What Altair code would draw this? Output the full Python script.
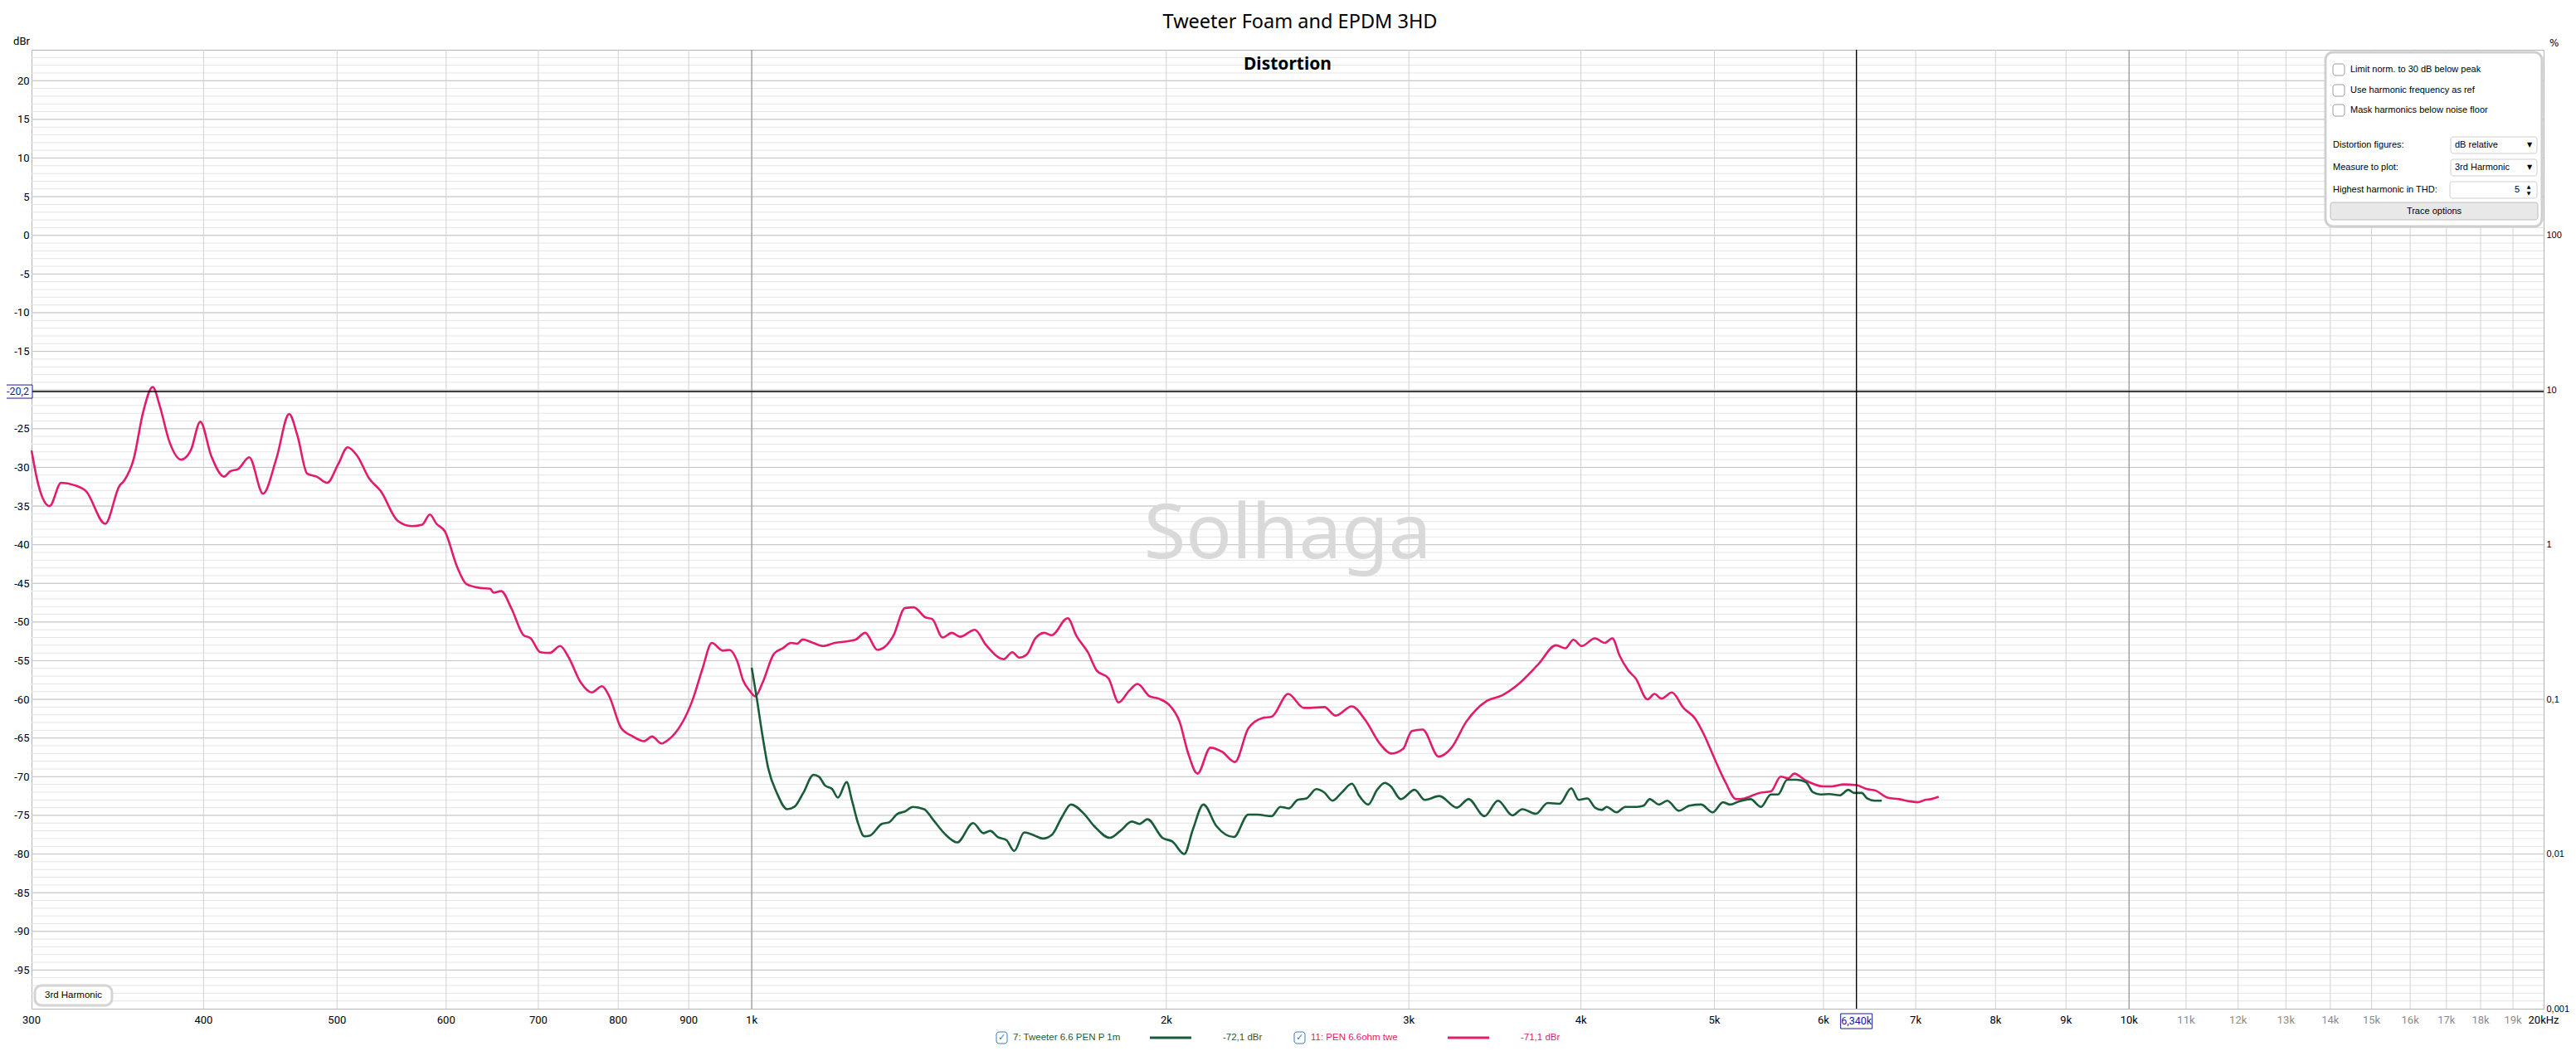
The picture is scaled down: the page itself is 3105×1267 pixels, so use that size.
import math
import altair as alt
import pandas as pd

# ---------------- data ----------------
pink_freq = [300, 303.6, 309.2, 315.2, 322.2, 328.7, 339.3, 347.5, 350.3, 355.9,
             361.6, 367.4, 371.8, 377.8, 385.3, 391.5, 397.8, 405.1, 413.9, 418.2,
             423.9, 431.7, 441.8, 451.7, 461.5, 468.1, 475.6, 483.3, 491.8, 500.9,
             508.9, 517.1, 527.4, 538.0, 553.2, 566.5, 576.5, 583.9, 590.4, 598.9,
             610.9, 620.7, 635.7, 645.8, 649.5, 657.8, 669.4, 682.9, 691.1, 702.2,
             713.4, 726.0, 736.5, 751.3, 765.2, 778.7, 788.1, 803.9, 820.0, 835.2,
             846.6, 860.1, 870.4, 906.2, 920.8, 935.5, 952.8, 963.4, 975.8, 986,
             996, 1006, 1018, 1038, 1053, 1068, 1079, 1089, 1108, 1127,
             1149, 1172, 1189, 1209, 1234, 1267, 1292, 1311, 1337, 1352,
             1376, 1397, 1417, 1452, 1480, 1524, 1546, 1564, 1584, 1607,
             1631, 1651, 1696, 1721, 1754, 1780, 1816, 1847, 1879, 1906,
             1945, 1974, 2014, 2045, 2073, 2107, 2153, 2196, 2243, 2294,
             2350, 2385, 2452, 2517, 2543, 2605, 2655, 2727, 2790, 2857,
             2914, 2971, 3015, 3070, 3153, 3222, 3302, 3418, 3505, 3594,
             3723, 3837, 3896, 3950, 4005, 4095, 4163, 4216, 4266, 4329,
             4384, 4471, 4523, 4577, 4657, 4748, 4842, 4915, 4985, 5093,
             5184, 5259, 5389, 5495, 5586, 5658, 5714, 5826, 5998, 6087,
             6206, 6340, 6453, 6548, 6677, 6808, 6942, 7024, 7113, 7182, 7274]
pink_db = [-27.8, -32.4, -35.0, -32.0, -32.3, -33.1, -37.3, -32.4, -31.7, -28.9,
           -22.8, -19.6, -22.1, -26.7, -29.0, -27.8, -24.1, -28.5, -31.2, -30.5,
           -30.2, -28.7, -33.4, -28.9, -23.1, -26.0, -30.8, -31.2, -32.0, -29.6,
           -27.4, -28.5, -31.4, -33.1, -36.9, -37.6, -37.4, -36.1, -37.3, -38.3,
           -42.8, -45.1, -45.6, -45.7, -46.2, -46.0, -48.3, -51.7, -52.1, -53.9,
           -54.0, -53.1, -54.6, -57.8, -59.1, -58.3, -59.6, -63.7, -64.8, -65.4,
           -64.8, -65.7, -65.2, -60.0, -56.1, -52.7, -53.7, -53.6, -55.0, -57.6,
           -58.8, -59.6, -57.9, -54.1, -53.4, -52.7, -52.8, -52.25, -52.7, -53.1,
           -52.7, -52.5, -52.3, -51.4, -53.6, -51.8, -48.2, -48.1, -49.4, -49.6,
           -52.0, -51.4, -51.9, -51.0, -53.0, -54.8, -53.9, -54.6, -54.2, -52.1,
           -51.4, -51.7, -49.5, -51.8, -53.9, -56.25, -57.3, -60.4, -58.9, -58.0,
           -59.6, -59.9, -60.9, -62.9, -66.8, -69.6, -66.25, -66.8, -68.1, -63.75,
           -62.4, -62.25, -59.3, -61.1, -61.1, -61.0, -62.1, -60.9, -62.7, -65.7,
           -67.0, -66.4, -64.1, -63.9, -67.4, -66.25, -62.9, -60.2, -59.5, -58.2,
           -55.5, -53.0, -53.4, -52.3, -53.1, -52.1, -52.7, -52.1, -54.3, -56.25,
           -57.3, -60.0, -59.3, -59.9, -59.1, -61.1, -62.5, -64.6, -67.1, -70.7,
           -72.9, -72.8, -72.1, -71.9, -70.0, -70.2, -69.6, -70.5, -71.25, -71.25,
           -71.0, -71.1, -71.6, -71.8, -72.7, -72.9, -73.2, -73.3, -73.0, -72.9, -72.6]

green_freq = [1000, 1008, 1018, 1028, 1043, 1061, 1074, 1090, 1109, 1119,
              1130, 1144, 1155, 1172, 1183, 1195, 1207, 1219, 1243, 1258,
              1276, 1292, 1309, 1334, 1356, 1383, 1410, 1448, 1473, 1490,
              1509, 1531, 1551, 1577, 1604, 1627, 1652, 1680, 1705, 1743,
              1773, 1820, 1852, 1888, 1912, 1938, 1987, 2021, 2061, 2091,
              2128, 2175, 2239, 2294, 2328, 2385, 2420, 2455, 2491, 2528,
              2570, 2603, 2641, 2680, 2727, 2762, 2803, 2845, 2882, 2911,
              2960, 3029, 3081, 3157, 3251, 3315, 3404, 3482, 3567, 3627,
              3710, 3784, 3859, 3936, 3985, 4044, 4095, 4143, 4176, 4245,
              4308, 4393, 4442, 4487, 4558, 4621, 4711, 4795, 4890, 4985,
              5073, 5133, 5208, 5311, 5405, 5495, 5560, 5647, 5738, 5826,
              5894, 5970, 6058, 6165, 6255, 6315, 6397, 6453, 6536, 6614]
green_db = [-55.9, -59.6, -64.6, -68.9, -72.1, -74.2, -73.9, -72.1, -69.75, -70.0,
            -71.1, -71.6, -72.7, -70.7, -73.2, -76.1, -77.7, -77.6, -76.1, -75.9,
            -74.8, -74.5, -73.9, -74.2, -75.7, -77.5, -78.5, -76.0, -77.3, -77.0,
            -77.8, -78.2, -79.6, -77.2, -77.6, -78.0, -77.5, -75.2, -73.6, -74.8,
            -76.4, -77.9, -77.0, -75.8, -76.1, -75.5, -77.9, -78.4, -80.0, -76.8,
            -73.6, -76.4, -77.8, -74.9, -74.9, -75.1, -73.9, -74.1, -73.0, -72.8,
            -71.6, -72.0, -73.1, -72.1, -70.9, -72.5, -73.6, -71.7, -70.8, -71.25,
            -72.9, -71.7, -73.0, -72.5, -74.0, -72.9, -75.1, -73.1, -75.0, -74.2,
            -74.8, -73.4, -73.5, -71.5, -73.0, -72.8, -74.0, -74.3, -73.9, -74.6,
            -73.9, -73.9, -73.75, -72.9, -73.6, -73.1, -74.4, -73.75, -73.6, -74.6,
            -73.3, -73.6, -73.2, -72.9, -73.9, -72.3, -72.3, -70.4, -70.4, -70.7,
            -72.0, -72.3, -72.25, -72.4, -71.7, -72.1, -72.1, -72.8, -73.1, -73.1]

x_ticks = [300, 400, 500, 600, 700, 800, 900, 1000, 2000, 3000, 4000, 5000,
           6000, 7000, 8000, 9000, 10000, 20000]
x_tick_labels = ["300", "400", "500", "600", "700", "800", "900", "1k", "2k", "3k",
                 "4k", "5k", "6k", "7k", "8k", "9k", "10k", "20kHz"]
x_minor_ticks = [11000, 12000, 13000, 14000, 15000, 16000, 17000, 18000, 19000]
x_minor_labels = ["11k", "12k", "13k", "14k", "15k", "16k", "17k", "18k", "19k"]
y_ticks = [-95, -90, -85, -80, -75, -70, -65, -60, -55, -50, -45, -40, -35,
           -30, -25, -15, -10, -5, 0, 5, 10, 15, 20]
pct_ticks = [0.001, 0.01, 0.1, 1, 10, 100]
decade_lines = [1000, 10000]
cursor_freq = 6340
cursor_db = -20.2

series_names = ["7: Tweeter 6.6 PEN P 1m", "11: PEN 6.6ohm twe"]
cursor_values = ["-72,1 dBr", "-71,1 dBr"]

# ---------------- layout constants ----------------
W, H = 3028, 1156
X_MIN, X_MAX = 300, 20000
Y_MIN, Y_MAX = -100, 24
PINK = "#e31b6c"
GREEN = "#185c38"
UI = "Liberation Sans"
NARROW = "Liberation Sans Narrow, Roboto, Liberation Sans"
XLAB_PAD = 8
XLAB_SIZE = 13


def xpx(f):
    return W * math.log(f / X_MIN) / math.log(X_MAX / X_MIN)


def ypx(v):
    return H * (Y_MAX - v) / (Y_MAX - Y_MIN)


xs = alt.Scale(type="log", domain=[X_MIN, X_MAX], nice=False)
ys = alt.Scale(domain=[Y_MIN, Y_MAX], nice=False, zero=False)

one = pd.DataFrame({"a": [0]})


def txt(s, x, y, size=11, color="#000000", align="left", weight="normal",
        font=UI, baseline="middle"):
    return alt.Chart(pd.DataFrame({"t": [s]})).mark_text(
        align=align, baseline=baseline, fontSize=size, color=color,
        fontWeight=weight, font=font
    ).encode(x=alt.value(x), y=alt.value(y), text="t:N")


def box(x1, y1, x2, y2, fill="white", stroke="#cccccc", sw=1, r=0):
    return alt.Chart(one).mark_rect(
        fill=fill, stroke=stroke, strokeWidth=sw, cornerRadius=r
    ).encode(x=alt.value(x1), x2=alt.value(x2), y=alt.value(y1), y2=alt.value(y2))


# ---------------- grid ----------------
hminor = alt.Chart(pd.DataFrame({"v": list(range(-99, 24))})).mark_rule(
    color="#e4e4e4", strokeWidth=1).encode(y=alt.Y("v:Q", scale=ys, axis=None))
hmajor = alt.Chart(pd.DataFrame({"v": list(range(-95, 24, 5))})).mark_rule(
    color="#c4c4c4", strokeWidth=1).encode(y=alt.Y("v:Q", scale=ys, axis=None))
vgrid = alt.Chart(pd.DataFrame({"f": x_ticks[1:-1] + x_minor_ticks})).mark_rule(
    color="#d2d2d2", strokeWidth=1).encode(x=alt.X("f:Q", scale=xs, axis=None))
vdec = alt.Chart(pd.DataFrame({"f": decade_lines})).mark_rule(
    color="#8a8a8a", strokeWidth=1).encode(x=alt.X("f:Q", scale=xs, axis=None))

watermark = txt("Solhaga", W / 2, 585, size=92, color="#d9d9d9",
                align="center", font="Noto Sans")

# ---------------- curves ----------------
pink_df = pd.DataFrame({"f": pink_freq, "db": pink_db})
green_df = pd.DataFrame({"f": green_freq, "db": green_db})

yaxis = alt.Axis(
    values=y_ticks, ticks=False, domain=False, grid=False, title=None,
    labelFont=NARROW, labelFontSize=13, labelPadding=3,
    labelExpr="'' + datum.value", labelColor="#000000", orient="left",
)

pink_line = alt.Chart(pink_df).mark_line(
    color=PINK, strokeWidth=2.6, interpolate="monotone").encode(
    x=alt.X("f:Q", scale=xs, axis=None),
    y=alt.Y("db:Q", scale=ys, axis=yaxis),
    order="f:Q")
green_line = alt.Chart(green_df).mark_line(
    color=GREEN, strokeWidth=2.6, interpolate="monotone").encode(
    x=alt.X("f:Q", scale=xs, axis=None),
    y=alt.Y("db:Q", scale=ys, axis=None),
    order="f:Q")

# frequency labels, placed by the x scale
major_lab = alt.Chart(pd.DataFrame({"f": x_ticks, "l": x_tick_labels})).mark_text(
    baseline="top", align="center", font=NARROW, fontSize=XLAB_SIZE, color="#000000"
).encode(x=alt.X("f:Q", scale=xs, axis=None), y=alt.value(H + XLAB_PAD), text="l:N")
minor_lab = alt.Chart(pd.DataFrame({"f": x_minor_ticks, "l": x_minor_labels})).mark_text(
    baseline="top", align="center", font=NARROW, fontSize=XLAB_SIZE, color="#8c8c8c"
).encode(x=alt.X("f:Q", scale=xs, axis=None), y=alt.value(H + XLAB_PAD), text="l:N")

# ---------------- cursor ----------------
cur_h = alt.Chart(pd.DataFrame({"v": [cursor_db]})).mark_rule(
    color="#000000", strokeWidth=1.4).encode(y=alt.Y("v:Q", scale=ys, axis=None))
cur_v = alt.Chart(pd.DataFrame({"f": [cursor_freq]})).mark_rule(
    color="#000000", strokeWidth=1.4).encode(x=alt.X("f:Q", scale=xs, axis=None))

cy = ypx(cursor_db)
cx = xpx(cursor_freq)
NAVY = "#1a1a9c"
cur_box_y = box(-34, cy - 8, 1, cy + 8, stroke=NAVY, sw=1)
cur_txt_y = txt("-20,2", -16.5, cy, size=12.5, color=NAVY, align="center", font=NARROW)
cur_box_x = box(cx - 19, H + 6, cx + 19, H + 24, stroke=NAVY, sw=1)
cur_txt_x = txt("6,340k", cx, H + 15, size=12.5, color=NAVY, align="center", font=NARROW)

# ---------------- titles ----------------
title = txt("Tweeter Foam and EPDM 3HD", 1529, -33, size=23.5, font="Noto Sans", align="center")
subtitle = txt("Distortion", W / 2, 18, size=21, weight="bold", font="Noto Sans", align="center")
dbr = txt("dBr", -12, -10, size=13, font=NARROW, align="center")
pct_title = txt("%", 3035, -8, size=12, font="DejaVu Sans", align="left")

# ---------------- control panel ----------------
panel = [box(2765, 3, 3026, 213, stroke="#cfcfcf", sw=3, r=9)]
for lbl, yy in [("Limit norm. to 30 dB below peak", 24),
                ("Use harmonic frequency as ref", 49),
                ("Mask harmonics below noise floor", 73)]:
    panel.append(box(2774, yy - 7, 2788, yy + 7, stroke="#9a9a9a", sw=1, r=3))
    panel.append(txt(lbl, 2795, yy, size=11))
for lbl, val, yy in [("Distortion figures:", "dB relative", 115),
                     ("Measure to plot:", "3rd Harmonic", 142)]:
    panel.append(txt(lbl, 2774, yy, size=11))
    panel.append(box(2916, yy - 10, 3020, yy + 10, stroke="#cfcfcf", sw=1, r=3))
    panel.append(txt(val, 2921, yy, size=11))
    panel.append(txt("▼", 3011, yy, size=8, align="center", font="DejaVu Sans"))
panel.append(txt("Highest harmonic in THD:", 2774, 169, size=11))
panel.append(box(2915, 159, 3020, 179, stroke="#cfcfcf", sw=1, r=3))
panel.append(txt("5", 2999, 169, size=11, align="right"))
panel.append(txt("▲", 3010, 165, size=6, align="center", font="DejaVu Sans"))
panel.append(txt("▼", 3010, 173, size=6, align="center", font="DejaVu Sans"))
panel.append(box(2771, 184, 3021, 205, fill="#e8e8e8", stroke="#bdbdbd", sw=1, r=3))
panel.append(txt("Trace options", 2896, 195, size=11, align="center"))

# ---------------- 3rd harmonic tag ----------------
tag = [box(4, 1128, 97, 1152, stroke="#d4d4d4", sw=3, r=8),
       txt("3rd Harmonic", 50.5, 1140, size=11.5, align="center")]

# ---------------- bottom legend ----------------
LY = 1191
BLUE = "#3a78c8"
legend = []
for name, val, col, x0 in [(series_names[0], cursor_values[0], GREEN, 1163),
                           (series_names[1], cursor_values[1], PINK, 1522)]:
    legend.append(box(x0, LY - 7, x0 + 13, LY + 7, stroke=BLUE, sw=1, r=3))
    legend.append(txt("✓", x0 + 6.5, LY, size=11, color=BLUE, align="center", font="DejaVu Sans"))
    legend.append(txt(name, x0 + 20, LY, size=11.5, color=col))
    legend.append(alt.Chart(one).mark_rule(color=col, strokeWidth=3).encode(
        x=alt.value(x0 + 185), x2=alt.value(x0 + 235), y=alt.value(LY)))
    legend.append(txt(val, x0 + 273, LY, size=11.5, color=col))

# ---------------- right % axis ----------------
pct_layer = alt.Chart(pd.DataFrame({"p": pct_ticks})).mark_point(opacity=0).encode(
    x=alt.value(0),
    y=alt.Y("p:Q", scale=alt.Scale(type="log", domain=[0.001, 100 * 10 ** (Y_MAX / 20)], nice=False),
            axis=alt.Axis(orient="right", values=pct_ticks, ticks=False, domain=False,
                          grid=False, title=None, labelFont="Liberation Sans", labelFontSize=11,
                          labelPadding=3, labelOverlap=False, labelColor="#000000",
                          labelExpr="replace('' + datum.value, '.', ',')")),
)

chart = alt.layer(
    hminor, hmajor, vgrid, vdec, watermark, pink_line, green_line, major_lab, minor_lab,
    cur_h, cur_v, cur_box_y, cur_txt_y, cur_box_x, cur_txt_x, title, subtitle, dbr,
    pct_title, *panel, *tag, *legend, pct_layer
).resolve_scale(y="independent").properties(
    width=W, height=H,
    autosize=alt.AutoSizeParams(type="none"),
    padding={"left": 30, "top": 52, "right": 31, "bottom": 43},
    background="white",
).configure_view(stroke="#b5b5b5", strokeWidth=1)

chart.save("out.html", embed_options={"renderer": "svg", "actions": False})
